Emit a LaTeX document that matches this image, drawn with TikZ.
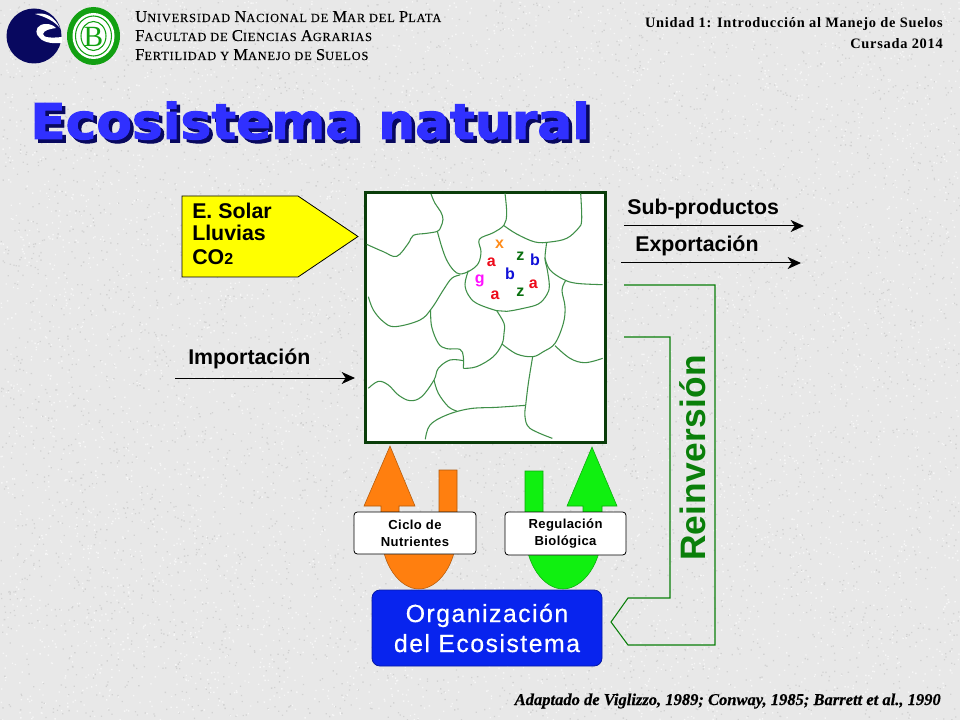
\documentclass[tikz,border=0pt]{standalone}
\usepackage{fontspec}
\usetikzlibrary{arrows.meta}
\setmainfont{Liberation Sans}
\newfontfamily\serf{Liberation Serif}
\newfontfamily\serfls[LetterSpace=6.5,FakeBold=0.25]{Liberation Serif}
\newfontfamily\serfb[LetterSpace=5]{Liberation Serif Bold}
\newfontfamily\citef[FakeBold=0.4]{Liberation Serif Bold Italic}
\newfontfamily\titlef[FakeBold=2,FakeStretch=1.05]{DejaVu Sans Bold}
\newfontfamily\titles[FakeBold=2,FakeStretch=1.05]{DejaVu Sans Bold}
\newfontfamily\lsb[LetterSpace=3]{Liberation Sans Bold}
\newfontfamily\lso[LetterSpace=6,FakeBold=0.5]{Liberation Sans}
\newfontfamily\lsr[LetterSpace=1]{Liberation Sans Bold}
\definecolor{paper}{HTML}{E8E8E8}
\definecolor{speckd}{HTML}{D2D2D2}
\definecolor{speckl}{HTML}{F6F6F6}
\definecolor{boxgreen}{HTML}{0A3D0A}
\definecolor{patch}{HTML}{3F8F48}
\definecolor{linegreen}{HTML}{0A7F0A}
\definecolor{navy}{HTML}{08085F}
\definecolor{seal}{HTML}{12A012}
\definecolor{orangeu}{HTML}{FF7F0F}
\definecolor{greenu}{HTML}{10F010}
\definecolor{orgblue}{HTML}{0824EE}
\definecolor{titleblue}{HTML}{3030FF}
\definecolor{inyellow}{HTML}{FFFF00}
\definecolor{spx}{HTML}{FF8C1A}
\definecolor{spz}{HTML}{0A7010}
\definecolor{spb}{HTML}{1010D8}
\definecolor{spa}{HTML}{EE0A1A}
\definecolor{spg}{HTML}{FF10FF}
\newcommand{\hdrline}[1]{{\fontsize{12.4}{13}\selectfont #1}}
\newcommand{\hs}[1]{{\fontsize{9.3}{10}\selectfont #1}}
\tikzset{
  wlabel/.style={inner sep=0pt,anchor=base west},
  flowarrow/.style={black,line width=0.75pt,-{Stealth[length=10pt,width=9pt,inset=3pt]}},
  flowlabel/.style={inner sep=0pt,anchor=base west,font=\bfseries\fontsize{16}{18}\selectfont},
  patchline/.style={patch,line width=0.8pt,smooth,tension=0.6},
  species/.style={inner sep=0pt,font=\bfseries\fontsize{12}{12}\selectfont},
  tagbox/.style={draw=black,fill=white,rounded corners=2.5pt,line width=0.6pt,inner sep=0pt,align=center,
     font=\lsb\fontsize{9.8}{12.6}\selectfont},
  hdrright/.style={inner sep=0pt,anchor=base east,font=\serfb\fontsize{10.8}{12}\selectfont},
}
\begin{document}
\begin{tikzpicture}[x=0.75pt,y=-0.75pt]
\useasboundingbox (0,0) rectangle (960,720);
\fill[paper] (0,0) rectangle (960,720);
\pgfmathsetseed{4242}
\foreach \k in {1,...,10} {
  \fill[speckd] \foreach \i in {1,...,500} { (rnd*960,rnd*720) rectangle ++(1.3,1.3) };
  \fill[speckl] \foreach \i in {1,...,600} { (rnd*960,rnd*720) rectangle ++(1.4,1.4) };
}

% logos
\fill[navy] (34,36) circle (27.5);
\fill[white] (62,43) .. controls (50,44) and (42,42) .. (38,36) .. controls (34,30) and (38,24) .. (46,24)
  .. controls (50,24) and (53,25) .. (56,28) .. controls (50,29) and (44,30) .. (43,34) .. controls (43,38) and (52,38) .. (62,37) -- cycle;
\fill[white] (35,14) .. controls (45,12) and (54,16) .. (60,28) .. controls (54,21) and (46,17) .. (35,14) -- cycle;
\fill[seal] (93.5,36) ellipse (26.5 and 29);
\fill[white] (93.5,36) ellipse (21 and 23);
\draw[seal,line width=0.8pt] (93.5,36) ellipse (18 and 20);
\draw[seal,line width=0.8pt] (93.5,36) ellipse (12.5 and 14.5);
\node[inner sep=0pt,text=seal] (sealB) at (93.5,36.5) {\serf\fontsize{22}{22}\selectfont B};

% header
\node[wlabel] (h1) at (135,22) {\serfls\hdrline{U}\hs{NIVERSIDAD} \hdrline{N}\hs{ACIONAL DE} \hdrline{M}\hs{AR DEL} \hdrline{P}\hs{LATA}};
\node[wlabel] (h2) at (135,41) {\serfls\hdrline{F}\hs{ACULTAD DE} \hdrline{C}\hs{IENCIAS} \hdrline{A}\hs{GRARIAS}};
\node[wlabel] (h3) at (135,60) {\serfls\hdrline{F}\hs{ERTILIDAD Y} \hdrline{M}\hs{ANEJO DE} \hdrline{S}\hs{UELOS}};
\node[hdrright] (u1) at (943,27.5) {Unidad 1: Introducción al Manejo de Suelos};
\node[hdrright] (u2) at (943,48.5) {Cursada 2014};

% title
\node[inner sep=0pt,anchor=base west,text=navy,font=\titles\fontsize{37}{40}\selectfont] (titleshadow) at (33.5,142.5) {Ecosistema natural};
\node[inner sep=0pt,anchor=base west,text=titleblue,font=\titlef\fontsize{37}{40}\selectfont] (title) at (30,139) {Ecosistema natural};

% input pentagon
\draw[fill=inyellow,draw=black,line width=0.6pt] (182,196) -- (298,196) -- (358,236.5) -- (298,277) -- (182,277) -- cycle;
\node[flowlabel] (solar) at (192,219) {E. Solar};
\node[flowlabel] (lluvias) at (192,241) {Lluvias};
\node[flowlabel] (co) at (192,265) {CO{\fontsize{12}{12}\selectfont 2}};

% ecosystem box
\node[draw=boxgreen,fill=white,line width=2.6pt,minimum width=180pt,minimum height=187.5pt,inner sep=0pt] (eco) at (485.5,317.5) {};
\begin{scope}[shift={(350,180)},x=0.25pt,y=-0.25pt]
\draw[patchline] plot coordinates {(243,42)(255,70)(272,95)(279,118)(272,142)(262,154)(230,160)(190,166)(175,190)(140,229)(100,215)(50,193)};
\draw[patchline] plot coordinates {(262,154)(275,200)(290,240)(310,270)(330,282)(360,272)(385,250)(393,215)(388,178)(430,158)(462,135)(470,100)(465,40)};
\draw[patchline] plot coordinates {(462,137)(500,162)(555,186)(600,186)(650,175)(685,145)(695,120)(692,40)};
\draw[patchline] plot coordinates {(355,272)(345,312)(355,345)(380,370)(440,392)(470,394)(520,385)(565,372)(590,345)(598,318)(592,270)(585,235)(590,188)};
\draw[patchline] plot coordinates {(585,235)(600,270)(640,298)(680,310)(758,314)};
\draw[patchline] plot coordinates {(648,300)(636,330)(645,380)(640,430)(615,490)(580,515)(548,530)(500,522)(456,492)};
\draw[patchline] plot coordinates {(440,392)(462,430)(462,460)(456,492)(430,530)(380,560)(340,565)};
\draw[patchline] plot coordinates {(330,285)(305,295)(280,330)(245,385)(210,420)(135,440)(100,425)(70,390)(55,350)};
\draw[patchline] plot coordinates {(242,390)(245,440)(265,490)(290,506)(330,508)(340,530)(340,565)};
\draw[patchline] plot coordinates {(340,542)(300,540)(265,565)(252,600)(215,650)(180,662)(145,645)(115,615)(85,604)(55,625)};
\draw[patchline] plot coordinates {(252,600)(265,640)(295,680)(320,693)};
\draw[patchline] plot coordinates {(548,530)(535,610)(527,676)};
\draw[patchline] plot coordinates {(527,676)(440,682)(360,686)(290,705)(240,735)(226,778)};
\draw[patchline] plot coordinates {(527,676)(525,710)(540,745)(607,775)};
\draw[patchline] plot coordinates {(615,497)(660,535)(705,548)(758,535)};
\node[species,text=spx] (sx) at (449,193) {x};
\node[species,text=spz] (sz1) at (511,229) {z};
\node[species,text=spb] (sb1) at (555,238) {b};
\node[species,text=spa] (sa1) at (424,246) {a};
\node[species,text=spb] (sb2) at (480,281) {b};
\node[species,text=spa] (sa2) at (550,312) {a};
\node[species,text=spg] (sg) at (389,302) {g};
\node[species,text=spa] (sa3) at (435,345) {a};
\node[species,text=spz] (sz2) at (511,336) {z};
\end{scope}

% flows
\coordinate (impS) at (175,378); \coordinate (impE) at (355,378);
\coordinate (subS) at (624,226); \coordinate (subE) at (804,226);
\coordinate (expS) at (621,263); \coordinate (expE) at (801,263);
\draw[flowarrow] (impS) -- (impE);
\draw[flowarrow] (subS) -- (subE);
\draw[flowarrow] (expS) -- (expE);
\node[flowlabel] (imp) at (188,364) {Importación};
\node[flowlabel] (sub) at (627,215) {Sub-productos};
\node[flowlabel] (exp) at (635,252) {Exportación};

% reinvestment line
\draw[linegreen,line width=0.8pt] (624,285) -- (715,285) -- (715,645) -- (628,645) -- (611,622) -- (628,598) -- (670,598) -- (670,337) -- (624,337);
\node[inner sep=0pt,rotate=90,text=linegreen,font=\lsr\fontsize{26.5}{30}\selectfont] (reinv) at (693,458) {Reinversión};

% U arrows
\fill[white] (399,535) -- (439,535) -- (439,540) .. controls (439,550) and (430,558) .. (419,558) .. controls (408,558) and (399,550) .. (399,540) -- cycle;
\draw[fill=orangeu,draw=orangeu!70!black,line width=0.4pt]
 (390,446) -- (415,506) -- (399,506) -- (399,530) .. controls (399,548) and (408,553) .. (419,553) .. controls (430,553) and (439,548) .. (439,530)
 -- (439,470) -- (457,470) -- (457,530) .. controls (457,565) and (438,589) .. (419,589) .. controls (400,589) and (381,565) .. (381,530) -- (381,506) -- (364,506) -- cycle;
\fill[white] (543,535) -- (583,535) -- (583,540) .. controls (583,550) and (574,558) .. (563,558) .. controls (552,558) and (543,550) .. (543,540) -- cycle;
\draw[fill=greenu,draw=greenu!70!black,line width=0.4pt]
 (592,447) -- (617,506) -- (602,506) -- (602,530) .. controls (602,565) and (582,589) .. (563,589) .. controls (544,589) and (525,565) .. (525,530)
 -- (525,471) -- (543,471) -- (543,530) .. controls (543,548) and (552,553) .. (563,553) .. controls (574,553) and (583,548) .. (583,530) -- (583,506) -- (567,506) -- cycle;

\node[tagbox,minimum width=91.5pt,minimum height=31.5pt] (ciclo) at (415,533) {Ciclo de\\Nutrientes};
\node[tagbox,minimum width=90.75pt,minimum height=32.25pt] (regul) at (565.5,533.5) {Regulación\\Biológica};
\node[draw=orgblue!70!black,fill=orgblue,rounded corners=6pt,line width=0.6pt,minimum width=172.5pt,minimum height=57pt,inner sep=0pt,text=white,align=center,font=\lso\fontsize{18.6}{22.5}\selectfont] (org) at (487,628) {Organización\\del Ecosistema};

% citation
\node[inner sep=0pt,anchor=base east,font=\citef\fontsize{12.4}{13}\selectfont] (cite) at (941,705) {Adaptado de Viglizzo, 1989; Conway, 1985; Barrett et al., 1990};
\end{tikzpicture}
\end{document}
